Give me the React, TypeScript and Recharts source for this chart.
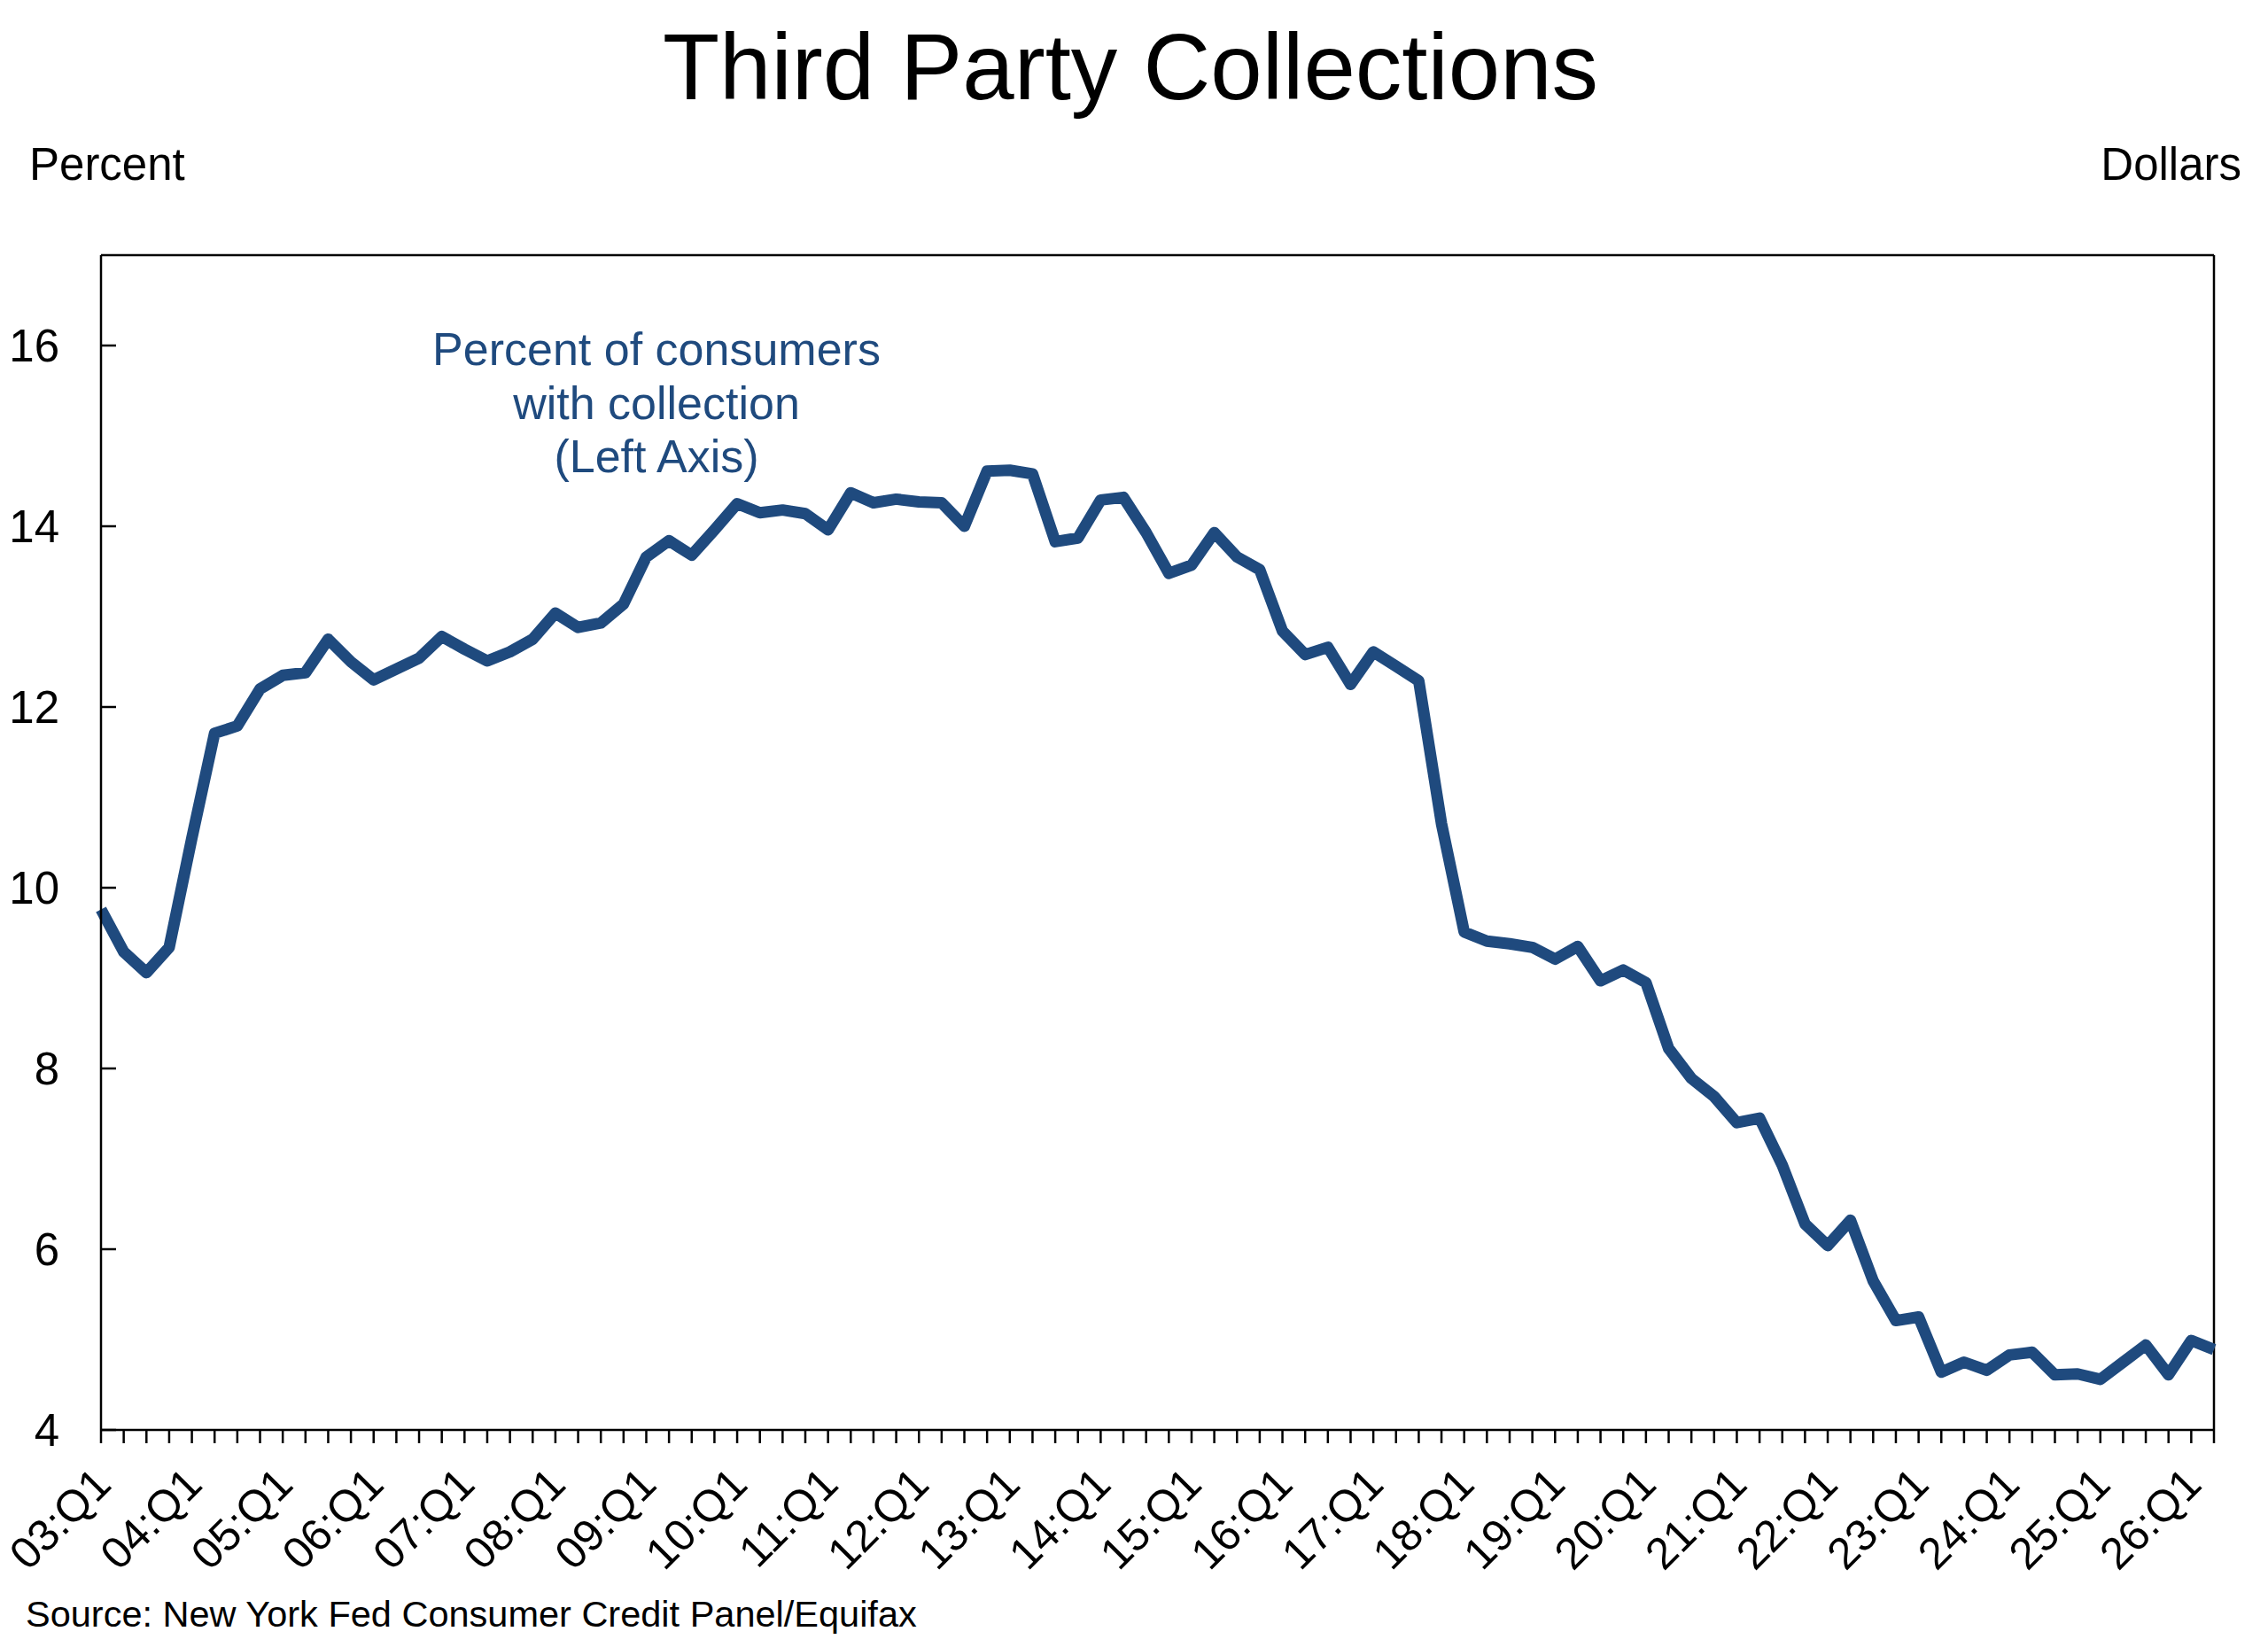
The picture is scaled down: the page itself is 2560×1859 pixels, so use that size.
import React from 'react';
import { LineChart, Line, XAxis, YAxis, ReferenceLine } from 'recharts';

const quarters = [
  '03:Q1', '03:Q2', '03:Q3', '03:Q4', '04:Q1', '04:Q2', '04:Q3', '04:Q4',
  '05:Q1', '05:Q2', '05:Q3', '05:Q4', '06:Q1', '06:Q2', '06:Q3', '06:Q4',
  '07:Q1', '07:Q2', '07:Q3', '07:Q4', '08:Q1', '08:Q2', '08:Q3', '08:Q4',
  '09:Q1', '09:Q2', '09:Q3', '09:Q4', '10:Q1', '10:Q2', '10:Q3', '10:Q4',
  '11:Q1', '11:Q2', '11:Q3', '11:Q4', '12:Q1', '12:Q2', '12:Q3', '12:Q4',
  '13:Q1', '13:Q2', '13:Q3', '13:Q4', '14:Q1', '14:Q2', '14:Q3', '14:Q4',
  '15:Q1', '15:Q2', '15:Q3', '15:Q4', '16:Q1', '16:Q2', '16:Q3', '16:Q4',
  '17:Q1', '17:Q2', '17:Q3', '17:Q4', '18:Q1', '18:Q2', '18:Q3', '18:Q4',
  '19:Q1', '19:Q2', '19:Q3', '19:Q4', '20:Q1', '20:Q2', '20:Q3', '20:Q4',
  '21:Q1', '21:Q2', '21:Q3', '21:Q4', '22:Q1', '22:Q2', '22:Q3', '22:Q4',
  '23:Q1', '23:Q2', '23:Q3', '23:Q4', '24:Q1', '24:Q2', '24:Q3', '24:Q4',
  '25:Q1', '25:Q2', '25:Q3', '25:Q4', '26:Q1', '26:Q2',
];

// percent of consumers with a third party collection on file
const pctWithCollection = [
  9.76, 9.29, 9.06, 9.34, 10.55, 11.71, 11.79, 12.2,
  12.35, 12.38, 12.75, 12.5, 12.3, 12.42, 12.54, 12.78,
  12.64, 12.51, 12.61, 12.75, 13.04, 12.88, 12.93, 13.14,
  13.66, 13.84, 13.68, 13.96, 14.25, 14.15, 14.18, 14.14,
  13.96, 14.37, 14.26, 14.3, 14.27, 14.26, 14.0, 14.61,
  14.62, 14.58, 13.83, 13.87, 14.29, 14.32, 13.93, 13.48,
  13.57, 13.93, 13.66, 13.52, 12.84, 12.58, 12.66, 12.25,
  12.61, 12.45, 12.29, 10.71, 9.51, 9.41, 9.38, 9.34,
  9.21, 9.35, 8.97, 9.09, 8.95, 8.22, 7.89, 7.69,
  7.4, 7.45, 6.93, 6.28, 6.04, 6.32, 5.65, 5.21,
  5.25, 4.64, 4.75, 4.66, 4.83, 4.86, 4.61, 4.62,
  4.56, 4.75, 4.94, 4.61, 4.99, 4.89,
];

const leftTicks = [4, 6, 8, 10, 12, 14, 16];

const data = quarters.map((q, i) => ({ q, pct: pctWithCollection[i] }));

const FONT = '"Liberation Sans", Arial, Helvetica, sans-serif';
const BLUE = '#1F4A7E';

const YTick = (props: any) => {
  const { x, y, payload } = props;
  return (
    <g>
      <line x1={x} y1={y} x2={x + 17} y2={y} stroke="#000" strokeWidth={2.5} />
      <text x={x - 47} y={y + 18} textAnchor="end" fontSize={51} fontFamily={FONT} fill="#000">
        {payload.value}
      </text>
    </g>
  );
};

const XTick = (props: any) => {
  const { x, y, payload } = props;
  const label = String(payload.value);
  const ax = x + 14;
  const ay = y + 64;
  return (
    <g>
      <line x1={x} y1={y} x2={x} y2={y + 15} stroke="#000" strokeWidth={2.5} />
      {label.endsWith('Q1') && (
        <text
          x={ax}
          y={ay}
          textAnchor="end"
          fontSize={50}
          fontFamily={FONT}
          fill="#000"
          transform={`rotate(-45, ${ax}, ${ay})`}
        >
          {label}
        </text>
      )}
    </g>
  );
};

export default function App() {
  return (
    <div style={{ position: 'absolute', left: 0, top: 0, width: 2560, height: 1859, background: '#fff' }}>
      <LineChart
        width={2560}
        height={1859}
        data={data}
        margin={{ top: 288, right: 61, left: 113, bottom: 244 }}
      >
        <XAxis
          dataKey="q"
          interval={0}
          height={1}
          tickSize={0}
          tickMargin={0}
          tickLine={false}
          tick={<XTick />}
          axisLine={{ stroke: '#000', strokeWidth: 2.5 }}
        />
        <YAxis
          yAxisId="left"
          domain={[4, 17]}
          ticks={leftTicks}
          width={1}
          tickSize={0}
          tickMargin={0}
          tickLine={false}
          tick={<YTick />}
          axisLine={{ stroke: '#000', strokeWidth: 2.5 }}
        />
        <ReferenceLine yAxisId="left" y={17} stroke="#000" strokeWidth={2.5} />
        <ReferenceLine yAxisId="left" x={quarters[quarters.length - 1]} stroke="#000" strokeWidth={2.5} />
        <Line
          yAxisId="left"
          type="linear"
          dataKey="pct"
          stroke={BLUE}
          strokeWidth={13}
          strokeLinejoin="round"
          dot={false}
          activeDot={false}
          isAnimationActive={false}
        />
      </LineChart>
      <svg
        width={2560}
        height={1859}
        style={{ position: 'absolute', left: 0, top: 0, pointerEvents: 'none' }}
        fontFamily={FONT}
      >
        <text x={1276} y={112} textAnchor="middle" fontSize={105} fill="#000">
          Third Party Collections
        </text>
        <text x={33} y={203} fontSize={51} fill="#000">
          Percent
        </text>
        <text x={2530} y={203} textAnchor="end" fontSize={51} fill="#000">
          Dollars
        </text>
        <text textAnchor="middle" fontSize={52} fill={BLUE}>
          <tspan x={741} y={412}>Percent of consumers</tspan>
          <tspan x={741} y={473}>with collection</tspan>
          <tspan x={741} y={533}>(Left Axis)</tspan>
        </text>
        <text x={29} y={1836} fontSize={41.5} fill="#000">
          Source: New York Fed Consumer Credit Panel/Equifax
        </text>
      </svg>
    </div>
  );
}
